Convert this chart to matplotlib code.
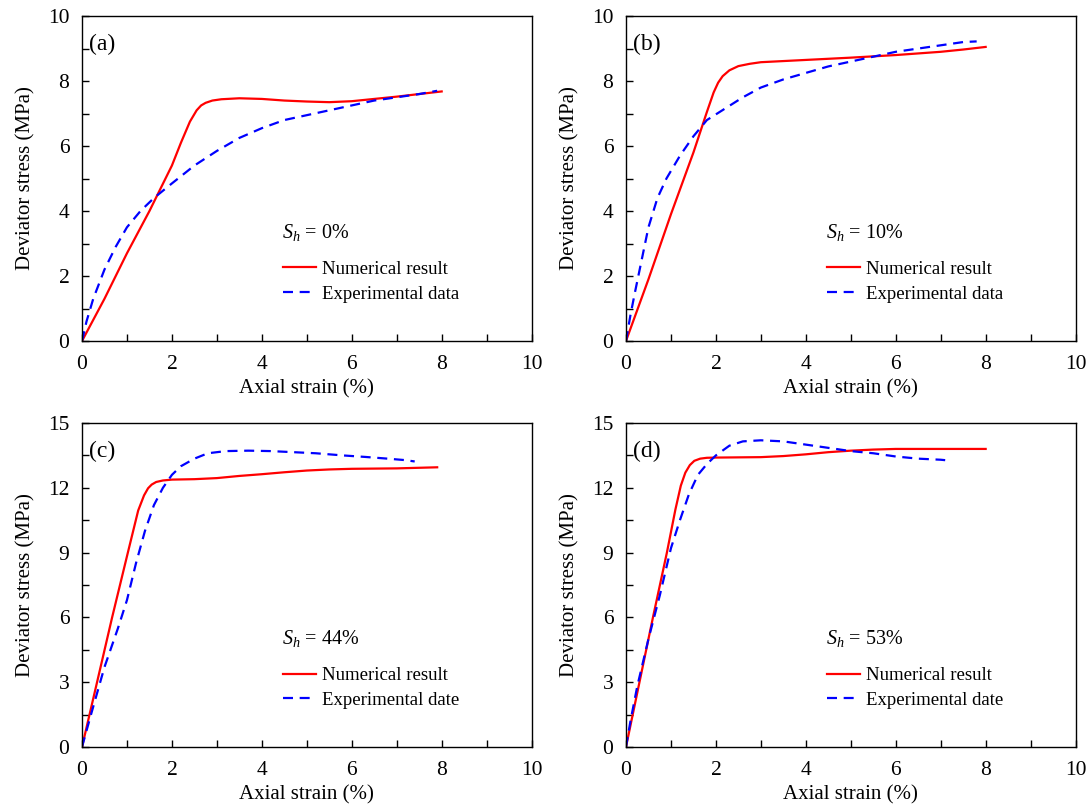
import numpy as np
import matplotlib
matplotlib.use('Agg')
import matplotlib.pyplot as plt
from matplotlib.ticker import MultipleLocator

plt.rcParams['font.family'] = ['Liberation Serif', 'DejaVu Serif']
plt.rcParams['mathtext.fontset'] = 'custom'
plt.rcParams['mathtext.rm'] = 'Liberation Serif'
plt.rcParams['mathtext.it'] = 'Liberation Serif:italic'

# (a) Sh = 0%
num_a_x = [0, 0.5, 1, 1.5, 2, 2.2, 2.4, 2.55, 2.65, 2.75, 2.9, 3.1, 3.5, 4, 4.5, 5, 5.5, 6, 6.5, 7, 7.5, 8]
num_a_y = [0, 1.3, 2.7, 4.0, 5.4, 6.1, 6.75, 7.1, 7.25, 7.33, 7.4, 7.44, 7.47, 7.45, 7.4, 7.37, 7.35, 7.38, 7.45, 7.52, 7.6, 7.68]
exp_a_x = [0, 0.1, 0.25, 0.5, 0.75, 1, 1.3, 1.6, 2, 2.5, 3, 3.5, 4, 4.5, 5, 5.5, 6, 6.5, 7, 7.5, 7.9]
exp_a_y = [0, 0.6, 1.3, 2.2, 2.9, 3.5, 4.0, 4.4, 4.85, 5.4, 5.85, 6.25, 6.55, 6.8, 6.95, 7.1, 7.25, 7.4, 7.5, 7.6, 7.7]

# (b) Sh = 10%
num_b_x = [0, 0.5, 1, 1.5, 1.8, 1.95, 2.05, 2.15, 2.3, 2.5, 2.75, 3, 4, 5, 6, 7, 7.5, 8]
num_b_y = [0, 1.9, 3.9, 5.8, 7.05, 7.65, 7.95, 8.15, 8.33, 8.46, 8.53, 8.58, 8.65, 8.72, 8.8, 8.9, 8.97, 9.05]
exp_b_x = [0, 0.1, 0.2, 0.35, 0.5, 0.7, 0.9, 1.2, 1.5, 1.8, 2.2, 2.6, 3, 3.5, 4, 4.5, 5, 5.5, 6, 6.5, 7, 7.5, 7.8]
exp_b_y = [0, 0.8, 1.5, 2.5, 3.5, 4.4, 5.0, 5.7, 6.3, 6.8, 7.15, 7.5, 7.8, 8.05, 8.25, 8.45, 8.6, 8.75, 8.9, 9.0, 9.1, 9.2, 9.22]

# (c) Sh = 44%
num_c_x = [0, 0.67, 1.02, 1.25, 1.38, 1.47, 1.55, 1.65, 1.8, 2, 2.5, 3, 3.5, 4, 4.5, 5, 5.5, 6, 7, 7.9]
num_c_y = [0, 6.0, 9.0, 10.95, 11.65, 11.98, 12.15, 12.27, 12.34, 12.38, 12.4, 12.45, 12.55, 12.63, 12.72, 12.8, 12.85, 12.88, 12.9, 12.95]
exp_c_x = [0, 0.2, 0.5, 0.8, 1, 1.2, 1.4, 1.6, 1.8, 2, 2.2, 2.5, 2.8, 3.2, 3.7, 4.2, 4.7, 5.2, 5.8, 6.3, 6.8, 7.2, 7.4]
exp_c_y = [0, 1.5, 3.7, 5.5, 6.8, 8.5, 10.0, 11.2, 12.0, 12.6, 13.0, 13.35, 13.6, 13.7, 13.72, 13.7, 13.65, 13.6, 13.5, 13.43, 13.35, 13.28, 13.22]

# (d) Sh = 53%
num_d_x = [0, 0.6, 0.91, 1.1, 1.22, 1.32, 1.42, 1.52, 1.65, 1.8, 2, 3, 3.5, 4, 4.5, 5, 5.5, 6, 7, 8]
num_d_y = [0, 6.0, 9.0, 11.0, 12.1, 12.7, 13.05, 13.25, 13.35, 13.39, 13.4, 13.42, 13.47, 13.55, 13.65, 13.72, 13.77, 13.8, 13.8, 13.8]
exp_d_x = [0, 0.1, 0.25, 0.5, 0.75, 1, 1.2, 1.4, 1.6, 1.8, 2, 2.3, 2.6, 3, 3.5, 4, 4.5, 5, 5.5, 6, 6.5, 7, 7.1]
exp_d_y = [0, 1.2, 2.8, 5.0, 7.0, 9.2, 10.5, 11.7, 12.6, 13.1, 13.5, 13.95, 14.15, 14.2, 14.15, 14.0, 13.85, 13.7, 13.6, 13.45, 13.35, 13.3, 13.28]

panels = [
    ('(a)', r'$S_h$ = 0%', 'Experimental data', 10, 2, num_a_x, num_a_y, exp_a_x, exp_a_y),
    ('(b)', r'$S_h$ = 10%', 'Experimental data', 10, 2, num_b_x, num_b_y, exp_b_x, exp_b_y),
    ('(c)', r'$S_h$ = 44%', 'Experimental date', 15, 3, num_c_x, num_c_y, exp_c_x, exp_c_y),
    ('(d)', r'$S_h$ = 53%', 'Experimental date', 15, 3, num_d_x, num_d_y, exp_d_x, exp_d_y),
]

positions = [
    [0.0755, 0.5795, 0.414, 0.4007],
    [0.5764, 0.5795, 0.414, 0.4007],
    [0.0755, 0.0789, 0.414, 0.3995],
    [0.5764, 0.0789, 0.414, 0.3995],
]

fig = plt.figure(figsize=(10.86, 8.11), dpi=100)

for pos, (tag, sh, exp_label, ymax, ystep, nx, ny, ex, ey) in zip(positions, panels):
    ax = fig.add_axes(pos)
    ax.plot(nx, ny, color='red', lw=1.6, label='Numerical result')
    ax.plot(ex, ey, color='blue', lw=1.6, ls=(0, (4.5, 3)), label=exp_label)
    ax.set_xlim(0, 10)
    ax.set_ylim(0, ymax)
    ax.xaxis.set_major_locator(MultipleLocator(2))
    ax.xaxis.set_minor_locator(MultipleLocator(1))
    ax.yaxis.set_major_locator(MultipleLocator(ystep))
    ax.yaxis.set_minor_locator(MultipleLocator(ystep / 2))
    ax.tick_params(which='both', direction='in', length=5, width=1, labelsize=15.5)
    ax.tick_params(axis='x', pad=10)
    ax.tick_params(axis='y', pad=9)
    for s in ax.spines.values():
        s.set_linewidth(1)
    ax.set_xlabel('Axial strain (%)', fontsize=15, labelpad=4)
    ax.set_ylabel('Deviator stress (MPa)', fontsize=15, labelpad=9)
    ax.text(0.015, 0.945, tag, transform=ax.transAxes, fontsize=17, va='top')
    ax.text(0.445, 0.335, sh, transform=ax.transAxes, fontsize=14.5, va='center')
    ax.legend(loc='upper left', bbox_to_anchor=(0.43, 0.27), frameon=False,
              fontsize=13.5, handlelength=1.75, handletextpad=0.35, labelspacing=0.4,
              borderaxespad=0)

fig.savefig('out.png', dpi=100)
